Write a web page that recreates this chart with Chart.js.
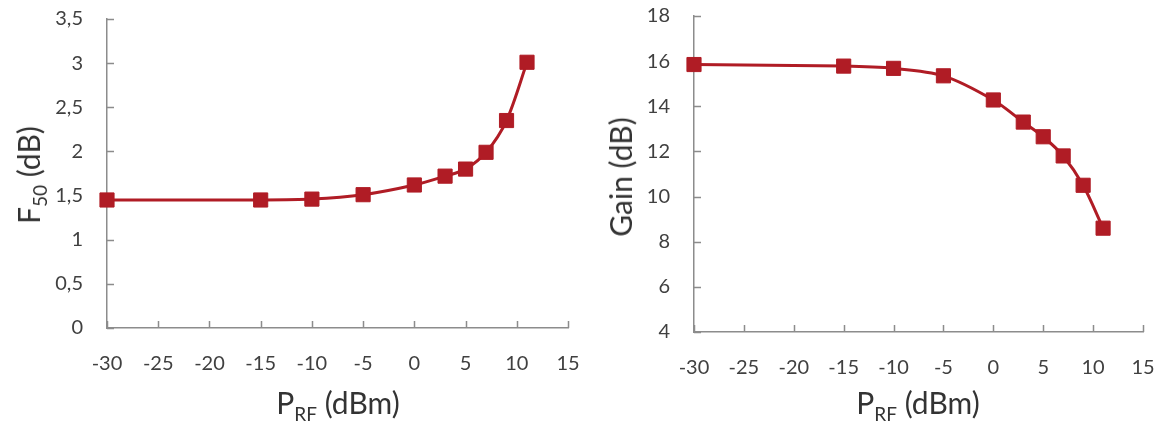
<!DOCTYPE html>
<html>
<head>
<meta charset="utf-8">
<script src="https://cdn.jsdelivr.net/npm/chart.js@4.4.1/dist/chart.umd.min.js"></script>
<style>
    body { margin: 0; background: #fff; width: 1165px; height: 425px; overflow: hidden; position: relative; font-family: Lato, "Open Sans", sans-serif; }
    .box { position: absolute; top: 0; height: 425px; }
    .ttl { position: absolute; color: #333; font-size: 30px; white-space: nowrap; transform: translate(-50%, -50%); line-height: 1; }
    .ttl sub { font-size: 19px; vertical-align: baseline; position: relative; top: 7px; }
    .rot { transform: translate(-50%, -50%) rotate(-90deg); }
</style>
</head>
<body>
<div class="box" style="left:0;width:580px"><canvas id="chartF50" width="580" height="425"></canvas></div>
<div class="box" style="left:580px;width:585px"><canvas id="chartGain" width="585" height="425"></canvas></div>

<div class="ttl rot" style="left:28px;top:175px">F<sub>50</sub> (dB)</div>
<div class="ttl" style="left:338px;top:402px">P<sub>RF</sub> (dBm)</div>
<div class="ttl rot" style="left:620px;top:177px">Gain (dB)</div>
<div class="ttl" style="left:918px;top:402px">P<sub>RF</sub> (dBm)</div>

<script>
const RED = '#B01C25';
const AXIS = '#8c8c8c';
const TICK_TEXT = '#404040';

// input power (dBm)
const P_RF = [-30, -15, -10, -5, 0, 3, 5, 7, 9, 11];
// noise figure F50 (dB)
const F50 = [1.45, 1.45, 1.46, 1.51, 1.62, 1.72, 1.80, 1.99, 2.35, 3.01];
// gain (dB)
const GAIN = [15.85, 15.78, 15.68, 15.35, 14.28, 13.3, 12.65, 11.8, 10.5, 8.6];

const X_RANGE = [-30, 15, 5];
const F50_RANGE = [0, 3.5, 0.5];
const GAIN_RANGE = [4, 18, 2];

// short tick marks pointing into the plot area
const innerTicks = {
    id: 'innerTicks',
    beforeDatasetsDraw(chart) {
        const { ctx, chartArea: a, scales: { x, y } } = chart;
        ctx.save();
        ctx.strokeStyle = AXIS;
        ctx.lineWidth = 1.5;
        ctx.beginPath();
        x.ticks.forEach(t => {
            const px = Math.round(x.getPixelForValue(t.value)) + 0.5;
            ctx.moveTo(px, a.bottom);
            ctx.lineTo(px, a.bottom - 7);
        });
        y.ticks.forEach(t => {
            const py = Math.round(y.getPixelForValue(t.value)) + 0.5;
            ctx.moveTo(a.left, py);
            ctx.lineTo(a.left + 7, py);
        });
        ctx.stroke();
        ctx.restore();
    }
};

// fixed axis sizes, no extra label padding, so the plot box lands where the layout padding says
function fixX(h) {
    return s => { s.height = h; s.paddingLeft = 0; s.paddingRight = 0; };
}
function fixY(w) {
    return s => { s.width = w; s.paddingTop = 0; s.paddingBottom = 0; };
}

function makeChart(id, values, yRange, box) {
    const ctx = document.getElementById(id);
    return new Chart(ctx, {
        type: 'line',
        data: {
            datasets: [{
                data: P_RF.map((p, i) => ({ x: p, y: values[i] })),
                borderColor: RED,
                backgroundColor: RED,
                borderWidth: 3,
                tension: 0.3,
                pointStyle: 'rect',
                pointRadius: 10,
                pointBorderWidth: 1,
                pointBorderColor: RED,
                clip: false
            }]
        },
        options: {
            responsive: false,
            animation: false,
            events: [],
            layout: { padding: { top: box.top, right: box.right, left: 0, bottom: 0 } },
            plugins: { legend: { display: false }, tooltip: { enabled: false } },
            scales: {
                x: {
                    type: 'linear',
                    min: X_RANGE[0], max: X_RANGE[1],
                    ticks: { stepSize: X_RANGE[2], padding: 24, color: TICK_TEXT, font: { family: 'Lato', size: 20 } },
                    grid: { display: false, drawTicks: false },
                    border: { color: AXIS, width: 1.5 },
                    afterFit: fixX(box.xh)
                },
                y: {
                    min: yRange[0], max: yRange[1],
                    ticks: {
                        stepSize: yRange[2], padding: 24, color: TICK_TEXT, font: { family: 'Lato', size: 20 },
                        callback: v => String(v).replace('.', ',')
                    },
                    grid: { display: false, drawTicks: false },
                    border: { color: AXIS, width: 1.5 },
                    afterFit: fixY(box.yw)
                }
            }
        },
        plugins: [innerTicks]
    });
}

makeChart('chartF50', F50, F50_RANGE, { top: 19, right: 12, xh: 97, yw: 107 });
makeChart('chartGain', GAIN, GAIN_RANGE, { top: 16, right: 22, xh: 93, yw: 114 });
</script>
</body>
</html>
